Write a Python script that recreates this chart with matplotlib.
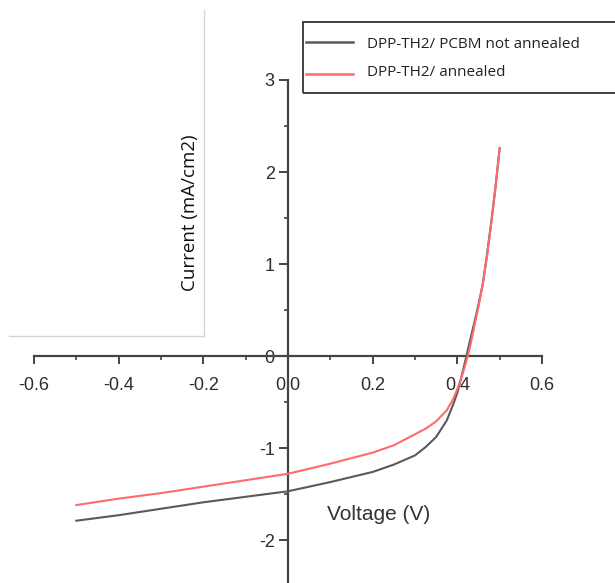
import matplotlib
matplotlib.use("Agg")
import matplotlib.pyplot as plt
from matplotlib.lines import Line2D
from matplotlib.patches import Rectangle
from matplotlib.ticker import MultipleLocator

# ---- data ----
voltage = [-0.5, -0.4, -0.3, -0.2, -0.1, 0.0, 0.1, 0.2, 0.25, 0.3, 0.325, 0.35,
           0.375, 0.39, 0.40, 0.41, 0.42, 0.43, 0.44, 0.45, 0.46, 0.47, 0.48, 0.49, 0.50]
current_not_annealed = [-1.79, -1.73, -1.66, -1.59, -1.53, -1.47, -1.37, -1.26, -1.18,
                        -1.08, -0.99, -0.88, -0.70, -0.53, -0.40, -0.22, -0.03, 0.17,
                        0.36, 0.56, 0.78, 1.10, 1.45, 1.83, 2.26]
current_annealed = [-1.62, -1.55, -1.49, -1.42, -1.35, -1.28, -1.17, -1.05, -0.97,
                    -0.85, -0.79, -0.71, -0.59, -0.47, -0.36, -0.23, -0.08, 0.10,
                    0.32, 0.54, 0.78, 1.08, 1.44, 1.83, 2.26]
series_labels = ["DPP-TH2/ PCBM not annealed", "DPP-TH2/ annealed"]
series_colors = ["#5a5a5a", "#ff6b6b"]
x_ticks = [-0.6, -0.4, -0.2, 0.0, 0.2, 0.4, 0.6]
y_ticks = [-2, -1, 0, 1, 2, 3]

W, H = 615, 583
fig = plt.figure(figsize=(W / 100, H / 100), dpi=100)
ax = fig.add_axes([34 / W, 0, 508 / W, 503 / H])
ax.set_xlim(-0.6, 0.6)
ax.set_ylim(-2.467, 3)

axc = "#444444"
for s in ["top", "right"]:
    ax.spines[s].set_visible(False)
ax.spines["left"].set_position(("data", 0))
ax.spines["bottom"].set_position(("data", 0))
for s in ["left", "bottom"]:
    ax.spines[s].set_color(axc)
    ax.spines[s].set_linewidth(1.6)

ax.set_xticks(x_ticks)
ax.set_xticklabels(["-0.6", "-0.4", "-0.2", "0.0", "0.2", "0.4", "0.6"])
ax.set_yticks(y_ticks)
ax.set_yticklabels([str(v) for v in y_ticks])
ax.xaxis.set_minor_locator(MultipleLocator(0.1))
ax.yaxis.set_minor_locator(MultipleLocator(0.5))
ax.tick_params(axis="x", which="major", direction="out", length=6, width=1.4,
               color=axc, pad=9, labelsize=13, labelcolor="#2e2e2e")
ax.tick_params(axis="y", which="major", direction="out", length=6.5, width=1.4,
               color=axc, pad=3, labelsize=13, labelcolor="#2e2e2e")
ax.tick_params(which="minor", direction="out", length=3, width=1.2, color=axc)
for lab in ax.get_xticklabels() + ax.get_yticklabels():
    lab.set_fontfamily("Liberation Sans")

ax.plot(voltage, current_not_annealed, color=series_colors[0], lw=1.5, zorder=3)
ax.plot(voltage, current_annealed, color=series_colors[1], lw=1.5, zorder=4)

# x label inside plot area
ax.text(0.215, -1.72, "Voltage (V)", ha="center", va="center", fontsize=15,
        family="Liberation Sans", color="#333333")

# y label inside its pasted box
fig.add_artist(Line2D([204 / W, 204 / W], [1 - 10 / H, 1 - 336 / H],
                      transform=fig.transFigure, color="#d6d6d6", lw=1))
fig.add_artist(Line2D([9 / W, 204 / W], [1 - 336 / H, 1 - 336 / H],
                      transform=fig.transFigure, color="#d6d6d6", lw=1))
fig.text(190 / W, 1 - 213 / H, "Current (mA/cm2)", rotation=90, ha="center",
         va="center", fontsize=13.5, family="Open Sans", color="#111111")

# legend (manual box that runs off the right edge)
fig.add_artist(Rectangle((303 / W, 1 - 93 / H), 400 / W, 71 / H,
                         transform=fig.transFigure, fill=False,
                         ec="#333333", lw=1.3))
rows = [(42, 45), (74, 73)]
for (ly, ty), lab, col in zip(rows, series_labels, series_colors):
    fig.add_artist(Line2D([306 / W, 353 / W], [1 - ly / H, 1 - ly / H],
                          transform=fig.transFigure, color=col, lw=1.8))
    fig.text(367 / W, 1 - ty / H, lab, ha="left", va="center", fontsize=11,
             family="Open Sans", color="#222222")

fig.savefig("out.png", dpi=100)
